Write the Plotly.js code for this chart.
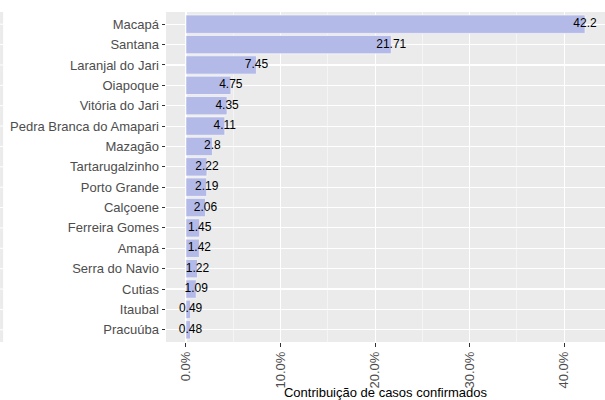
<!DOCTYPE html>
<html>
<head>
<meta charset="utf-8">
<script src="https://cdn.plot.ly/plotly-3.0.1.min.js"></script>
<style>html,body{margin:0;padding:0;background:#fff;}#chart{width:605px;height:400px;}</style>
</head>
<body>
<div id="chart"></div>
<script>
const municipios = ["Macapá","Santana","Laranjal do Jari","Oiapoque","Vitória do Jari","Pedra Branca do Amapari","Mazagão","Tartarugalzinho","Porto Grande","Calçoene","Ferreira Gomes","Amapá","Serra do Navio","Cutias","Itaubal","Pracuúba"];
const contribuicao = [42.2,21.71,7.45,4.75,4.35,4.11,2.8,2.22,2.19,2.06,1.45,1.42,1.22,1.09,0.49,0.48];
const xTicks = [0,10,20,30,40];
const xTitle = "Contribuição de casos confirmados";

const cats = municipios.slice().reverse();
const vals = contribuicao.slice().reverse();
const maxV = Math.max(...contribuicao);
const pad = maxV * 0.05;

const bars = {
  type: 'bar', orientation: 'h', x: vals, y: cats,
  marker: {color: '#b4bae8', line: {color: 'white', width: 0.6}},
  hoverinfo: 'skip', width: 0.9
};
const labels = {
  type: 'scatter', mode: 'text', x: vals, y: cats,
  text: vals.map(v => String(v)),
  textposition: 'middle center',
  textfont: {family: 'Liberation Sans, Arial, sans-serif', size: 12, color: '#000'},
  hoverinfo: 'skip', cliponaxis: false
};

const shapes = [{type:'rect', xref:'paper', yref:'paper', x0:-0.378, x1:-0.371, y0:0, y1:1, fillcolor:'#ebebeb', line:{width:0}, layer:'below'}];
cats.forEach(c => shapes.push({type:'line', xref:'paper', yref:'y', x0:-0.378, x1:-0.371, y0:c, y1:c, line:{color:'white', width:1}}));

const layout = {
  width: 605, height: 400,
  margin: {l: 166, r: 0, t: 12, b: 58},
  paper_bgcolor: 'white', plot_bgcolor: '#ebebeb',
  showlegend: false,
  font: {family: 'Liberation Sans, Arial, sans-serif', size: 13, color: '#4d4d4d'},
  xaxis: {
    range: [-pad, maxV + pad],
    tickvals: xTicks, ticktext: xTicks.map(t => t.toFixed(1) + '%'),
    tickangle: -90, ticks: 'outside', ticklen: 3.5, tickcolor: '#333', tickwidth: 1,
    showgrid: true, gridcolor: 'white', gridwidth: 1.1,
    minor: {dtick: 5, tick0: 0, showgrid: true, gridcolor: 'white', gridwidth: 0.5},
    zeroline: false, showline: false,
    tickfont: {size: 13, color: '#4d4d4d'},
    title: {text: xTitle, font: {size: 13, color: '#000'}, standoff: 6},
    automargin: false, fixedrange: true
  },
  yaxis: {
    type: 'category', range: [-0.6, cats.length - 0.4],
    ticks: 'outside', ticklen: 3.5, tickcolor: '#333', tickwidth: 1,
    showgrid: true, gridcolor: 'white', gridwidth: 1.1,
    zeroline: false, showline: false,
    tickfont: {size: 13, color: '#4d4d4d'},
    automargin: false, fixedrange: true
  },
  shapes: shapes
};

Plotly.newPlot('chart', [bars, labels], layout, {displayModeBar: false, staticPlot: true});
</script>
</body>
</html>
